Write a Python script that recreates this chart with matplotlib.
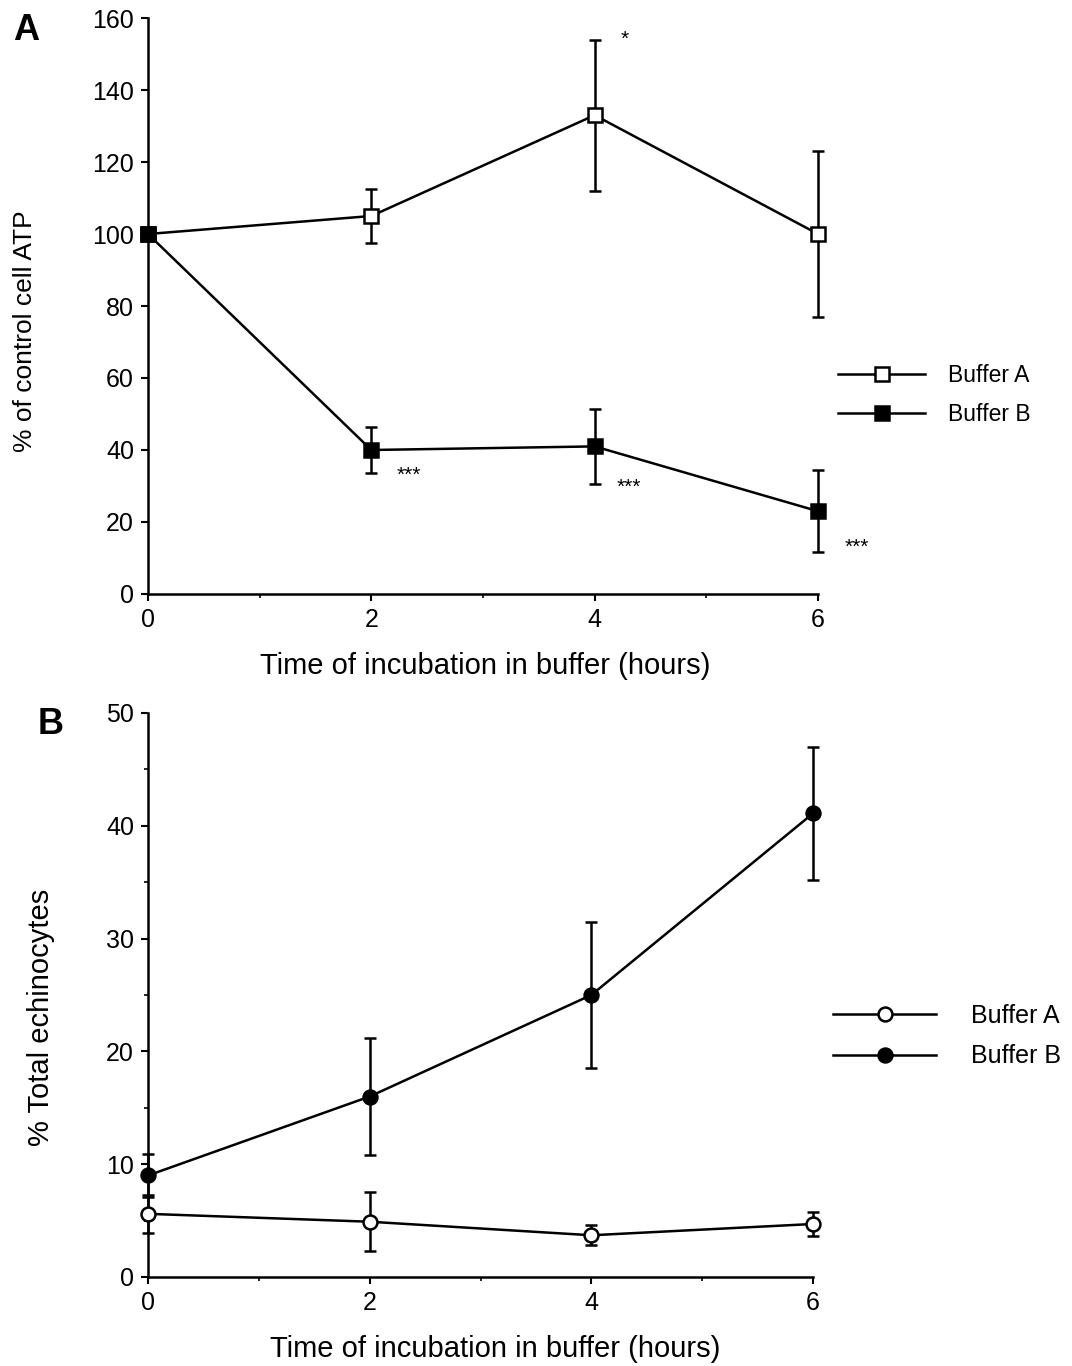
import numpy as np
import matplotlib.pyplot as plt
from matplotlib.ticker import MultipleLocator

plt.rcParams['font.family'] = ['Liberation Sans', 'DejaVu Sans']

# datos
hours = [0, 2, 4, 6]

atp_a = [100, 105, 133, 100]
atp_a_err = [0, 7.5, 21, 23]
atp_b = [100, 40, 41, 23]
atp_b_err = [0, 6.5, 10.5, 11.4]

echino_a = [5.6, 4.9, 3.7, 4.7]
echino_a_err = [1.7, 2.6, 0.9, 1.1]
echino_b = [9.0, 16.0, 25.0, 41.1]
echino_b_err = [1.9, 5.2, 6.5, 5.9]

# marcas de significancia (texto, x, y)
stars_text = ['*', '***', '***', '***']
stars_x = [4.27, 2.34, 4.31, 6.35]
stars_y = [154, 33, 29.5, 13]

W, H = 1072, 1366
fig = plt.figure(figsize=(W / 100, H / 100), dpi=100)

axA = fig.add_axes([148 / W, 1 - 594 / H, (818 - 148) / W, (594 - 18) / H])
axB = fig.add_axes([148 / W, 1 - 1277 / H, (813 - 148) / W, (1277 - 713) / H])


def style_axis(ax):
    for s in ['top', 'right']:
        ax.spines[s].set_visible(False)
    for s in ['left', 'bottom']:
        ax.spines[s].set_linewidth(1.8)
    ax.tick_params(which='major', direction='out', length=5, width=1.5,
                   labelsize=18, pad=5)
    ax.tick_params(which='minor', direction='out', length=3, width=1.2)
    ax.set_xlim(0, 6)
    ax.set_xticks([0, 2, 4, 6])
    ax.xaxis.set_minor_locator(MultipleLocator(1))


def draw_series(ax, x, y, err, marker, face, label):
    ax.errorbar(x, y, yerr=err, color='black', lw=1.8, elinewidth=1.8,
                capsize=4.5, capthick=1.8, marker=marker, markersize=10,
                markerfacecolor=face, markeredgecolor='black',
                markeredgewidth=1.8, label=label, clip_on=False, zorder=3)


# Panel A
style_axis(axA)
axA.set_ylim(0, 160)
axA.set_yticks(np.arange(0, 161, 20))
draw_series(axA, hours, atp_a, atp_a_err, 's', 'white', 'Buffer A')
draw_series(axA, hours, atp_b, atp_b_err, 's', 'black', 'Buffer B')
for t, x, y in zip(stars_text, stars_x, stars_y):
    axA.text(x, y, t, fontsize=15, ha='center', va='center')
axA.set_xlabel('Time of incubation in buffer (hours)', fontsize=21)
axA.xaxis.set_label_coords(0.504, -0.1007)
axA.set_ylabel('% of control cell ATP', fontsize=19)
axA.yaxis.set_label_coords(-0.166, 0.457)
hA, lA = axA.get_legend_handles_labels()
axA.legend([h[0] for h in hA], lA, loc='center left',
           bbox_to_anchor=(1.013, 0.345), frameon=False, fontsize=16.5,
           handlelength=3.8, handletextpad=1.0, labelspacing=0.7, borderpad=0)
axA.text(-0.182, 0.979, 'A', transform=axA.transAxes, fontsize=26,
         fontweight='bold', ha='center', va='center')

# Panel B
style_axis(axB)
axB.set_ylim(0, 50)
axB.set_yticks(np.arange(0, 51, 10))
axB.yaxis.set_minor_locator(MultipleLocator(5))
draw_series(axB, hours, echino_a, echino_a_err, 'o', 'white', 'Buffer A')
draw_series(axB, hours, echino_b, echino_b_err, 'o', 'black', 'Buffer B')
axB.set_xlabel('Time of incubation in buffer (hours)', fontsize=21)
axB.xaxis.set_label_coords(0.522, -0.102)
axB.set_ylabel('% Total echinocytes', fontsize=21)
axB.yaxis.set_label_coords(-0.14, 0.461)
hB, lB = axB.get_legend_handles_labels()
axB.legend([h[0] for h in hB], lB, loc='center left',
           bbox_to_anchor=(1.012, 0.427), frameon=False, fontsize=18,
           handlelength=4.1, handletextpad=1.4, labelspacing=0.65, borderpad=0)
axB.text(-0.147, 0.979, 'B', transform=axB.transAxes, fontsize=26,
         fontweight='bold', ha='center', va='center')

fig.savefig('out.png', dpi=100)
